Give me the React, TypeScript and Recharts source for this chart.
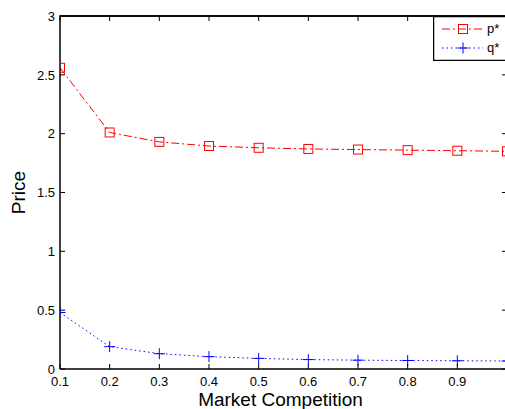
import { LineChart, Line, XAxis, YAxis, ReferenceLine } from "recharts";

const competition = [0.1, 0.2, 0.3, 0.4, 0.5, 0.6, 0.7, 0.8, 0.9, 1.0];
const pStar = [2.56, 2.01, 1.93, 1.895, 1.88, 1.87, 1.865, 1.86, 1.855, 1.85];
const qStar = [0.48, 0.19, 0.13, 0.105, 0.09, 0.08, 0.075, 0.072, 0.07, 0.068];

const xTicks = [0.1, 0.2, 0.3, 0.4, 0.5, 0.6, 0.7, 0.8, 0.9, 1];
// the "1" label falls past the right edge of the picture
const xTickLabels = ["0.1", "0.2", "0.3", "0.4", "0.5", "0.6", "0.7", "0.8", "0.9", ""];
const yTicks = [0, 0.5, 1, 1.5, 2, 2.5, 3];
const yTickLabels = ["0", "0.5", "1", "1.5", "2", "2.5", "3"];

const data = competition.map((c, i) => ({ c, p: pStar[i], q: qStar[i] }));

const FONT = "Arial, 'Liberation Sans', Helvetica, sans-serif";
const RED = "#ff0000";
const BLUE = "#0000ff";
const TICK = 5;

const W = 545;
const H = 409;
const M = { top: 16, right: 38, bottom: 0, left: 0 };
const Y_AXIS_W = 60;
const X_AXIS_H = 40;
const PLOT_W = W - M.left - M.right - Y_AXIS_W;
const PLOT_H = H - M.top - M.bottom - X_AXIS_H;
const AXIS = { stroke: "#000", strokeWidth: 1.5 };

// bottom tick plus the matching inward tick on the top edge of the box
const BottomTick = (props: any) => {
  const { x, y, index } = props;
  return (
    <g>
      <line x1={x} y1={y} x2={x} y2={y - TICK} stroke="#000" />
      <line x1={x} y1={y - PLOT_H} x2={x} y2={y - PLOT_H + TICK} stroke="#000" />
      <text x={x} y={y + 17} textAnchor="middle" fontSize={13} fontFamily={FONT} fill="#000">
        {xTickLabels[index]}
      </text>
    </g>
  );
};

// left tick plus the matching inward tick on the right edge of the box
const LeftTick = (props: any) => {
  const { x, y, index } = props;
  return (
    <g>
      <line x1={x} y1={y} x2={x + TICK} y2={y} stroke="#000" />
      <line x1={x + PLOT_W} y1={y} x2={x + PLOT_W - TICK} y2={y} stroke="#000" />
      <text x={x - 5} y={y + 4.7} textAnchor="end" fontSize={13} fontFamily={FONT} fill="#000">
        {yTickLabels[index]}
      </text>
    </g>
  );
};

const SquareDot = (props: any) => {
  const { cx, cy, index } = props;
  return <rect key={index} x={cx - 4.5} y={cy - 4.5} width={9} height={9} fill="none" stroke={RED} />;
};

const PlusDot = (props: any) => {
  const { cx, cy, index } = props;
  return (
    <path
      key={index}
      d={`M${cx - 5.5},${cy}H${cx + 5.5}M${cx},${cy - 5.5}V${cy + 5.5}`}
      stroke={BLUE}
      fill="none"
    />
  );
};

const LegendBox = () => (
  <svg
    width={72}
    height={45}
    style={{ position: "absolute", left: 433, top: 16, display: "block" }}
  >
    <rect x={0.5} y={0.5} width={90} height={44} fill="#fff" stroke="#000" strokeWidth={1.5} />
    <line x1={9} y1={13} x2={50} y2={13} stroke={RED} strokeDasharray="8 3 2 3" />
    <rect x={25.5} y={8.5} width={9} height={9} fill="none" stroke={RED} />
    <text x={54} y={17} fontSize={13} fontFamily={FONT}>p*</text>
    <line x1={9} y1={32} x2={50} y2={32} stroke={BLUE} strokeDasharray="1.5 3" />
    <path d="M24.5,32H35.5M30,26.5V37.5" stroke={BLUE} />
    <text x={54} y={36} fontSize={13} fontFamily={FONT}>q*</text>
  </svg>
);

// top edge of the axes box, kept above the chart layers
const TopEdge = () => (
  <svg
    width={505}
    height={4}
    style={{ position: "absolute", left: 0, top: 14, display: "block", pointerEvents: "none" }}
  >
    <line x1={Y_AXIS_W - 0.75} y1={2} x2={505} y2={2} stroke="#000" strokeWidth={1.5} />
  </svg>
);

export default function App() {
  return (
    <div
      style={{
        position: "fixed",
        left: 0,
        top: 0,
        width: 505,
        height: 409,
        overflow: "hidden",
        background: "#fff",
      }}
    >
      <LineChart width={W} height={H} data={data} margin={M}>
        <XAxis
          dataKey="c"
          type="number"
          domain={[0.1, 1]}
          ticks={xTicks}
          allowDataOverflow
          height={X_AXIS_H}
          tickSize={0}
          tickMargin={0}
          tickLine={false}
          tick={<BottomTick />}
          axisLine={AXIS}
          interval={0}
          label={{
            content: (p: any) => {
              const vb = p.viewBox;
              return (
                <text
                  x={vb.x + vb.width / 2 - 3}
                  y={406}
                  textAnchor="middle"
                  fontSize={19}
                  fontFamily={FONT}
                  fill="#000"
                >
                  Market Competition
                </text>
              );
            },
          }}
        />
        <YAxis
          type="number"
          domain={[0, 3]}
          ticks={yTicks}
          allowDataOverflow
          width={Y_AXIS_W}
          tickSize={0}
          tickMargin={0}
          tickLine={false}
          tick={<LeftTick />}
          axisLine={AXIS}
          interval={0}
          label={{
            content: (p: any) => {
              const vb = p.viewBox;
              const cy = vb.y + vb.height / 2;
              return (
                <text
                  x={25}
                  y={cy}
                  transform={`rotate(-90 25 ${cy})`}
                  textAnchor="middle"
                  fontSize={19}
                  fontFamily={FONT}
                  fill="#000"
                >
                  Price
                </text>
              );
            },
          }}
        />
        {/* top and right edges of the box */}
        <ReferenceLine y={3} stroke="#000" strokeWidth={1.5} ifOverflow="visible" />
        <ReferenceLine x={1} stroke="#000" strokeWidth={1.5} ifOverflow="visible" />
        <Line
          dataKey="p"
          name="p*"
          stroke={RED}
          strokeWidth={1}
          strokeDasharray="8 3 2 3"
          dot={<SquareDot />}
          activeDot={false}
          isAnimationActive={false}
        />
        <Line
          dataKey="q"
          name="q*"
          stroke={BLUE}
          strokeWidth={1}
          strokeDasharray="1.5 3"
          dot={<PlusDot />}
          activeDot={false}
          isAnimationActive={false}
        />
      </LineChart>
      <TopEdge />
      <LegendBox />
    </div>
  );
}
